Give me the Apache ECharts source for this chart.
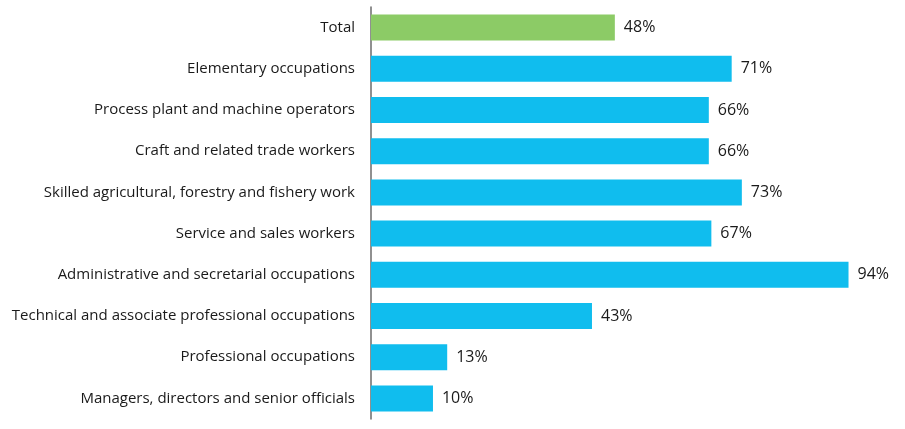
<!DOCTYPE html>
<html>
<head>
<meta charset="utf-8">
<script src="https://cdn.jsdelivr.net/npm/echarts@6/dist/echarts.min.js"></script>
<style>
  html, body { margin: 0; padding: 0; background: #fff; }
  #chartExample { width: 905px; height: 429px; }
</style>
</head>
<body>
<div id="chartExample"></div>
<script>
// categories, top to bottom
var categories = [
    'Total',
    'Elementary occupations',
    'Process plant and machine operators',
    'Craft and related trade workers',
    'Skilled agricultural, forestry and fishery work',
    'Service and sales workers',
    'Administrative and secretarial occupations',
    'Technical and associate professional occupations',
    'Professional occupations',
    'Managers, directors and senior officials'
];
// bar lengths
var values = [48, 71, 66.5, 66.5, 73, 67, 94, 43.5, 15, 12.2];
// printed labels
var labels = ['48%', '71%', '66%', '66%', '73%', '67%', '94%', '43%', '13%', '10%'];

var myChart = echarts.init(document.getElementById('chartExample'));
var option = {
    animation: false,
    grid: {
        left: 371,
        right: 26,
        top: 7,
        bottom: 10
    },
    xAxis: {
        type: 'value',
        min: 0,
        max: 100,
        show: false
    },
    yAxis: {
        type: 'category',
        inverse: true,
        data: categories,
        axisLine: { show: true, lineStyle: { color: '#6b6b6b', width: 1.5 } },
        axisTick: { show: false },
        axisLabel: {
            margin: 16,
            color: '#1a1a1a',
            fontSize: 15,
            fontWeight: 500,
            fontFamily: 'Open Sans'
        }
    },
    series: [{
        type: 'bar',
        barWidth: 26,
        data: values.map(function (v, i) {
            return {
                value: v,
                itemStyle: { color: i === 0 ? '#8ccb66' : '#10bdee' }
            };
        }),
        label: {
            show: true,
            position: 'right',
            distance: 9,
            color: '#1a1a1a',
            fontSize: 16,
            fontWeight: 500,
            fontFamily: 'Open Sans',
            formatter: function (p) { return labels[p.dataIndex]; }
        }
    }]
};
myChart.setOption(option);
</script>
</body>
</html>
